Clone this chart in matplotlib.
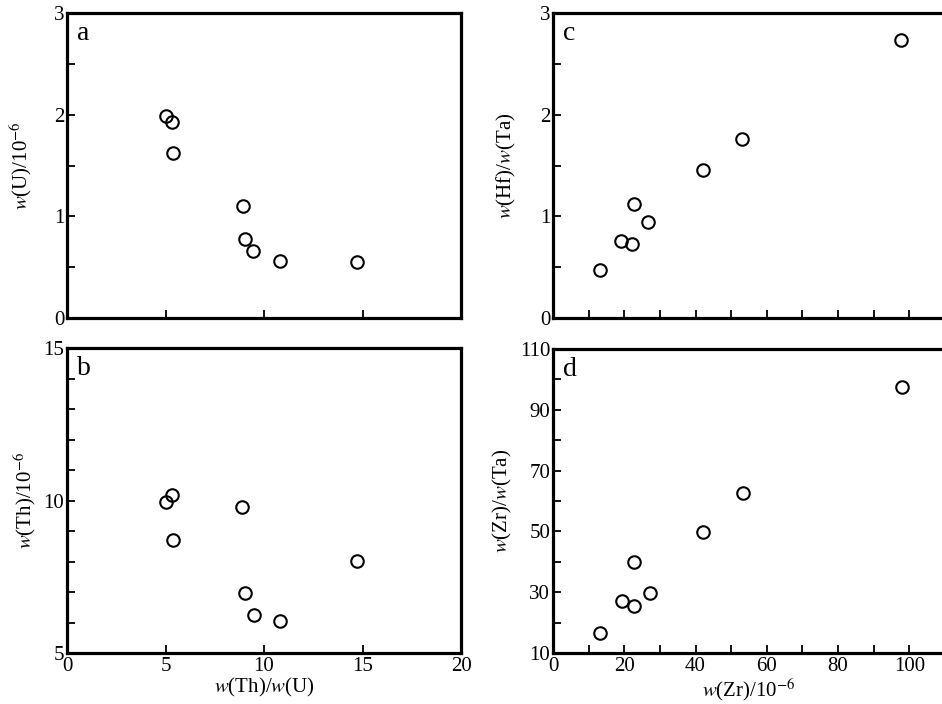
import matplotlib
matplotlib.use('Agg')
from matplotlib import pyplot as plt
from matplotlib.ticker import MultipleLocator

plt.rcParams['font.family'] = ['Liberation Serif', 'DejaVu Serif']
plt.rcParams['mathtext.fontset'] = 'stix'

# a/b: w(Th)/w(U) against w(U) and w(Th)
thu_a = [5.03, 5.35, 5.40, 8.92, 9.05, 9.42, 10.81, 14.74]
u_ppm = [1.99, 1.93, 1.62, 1.10, 0.78, 0.66, 0.56, 0.55]
thu_b = [5.03, 5.33, 5.40, 8.90, 9.04, 9.48, 10.83, 14.70]
th_ppm = [9.96, 10.19, 8.69, 9.80, 6.97, 6.26, 6.04, 8.02]

# c/d: w(Zr) against Hf/Ta and Zr/Ta
zr_c = [13.3, 19.0, 22.2, 22.7, 26.7, 42.0, 53.1, 97.6]
hf_ta = [0.47, 0.76, 0.73, 1.12, 0.94, 1.46, 1.76, 2.73]
zr_d = [13.3, 19.5, 22.6, 22.7, 27.2, 42.0, 53.4, 98.0]
zr_ta = [16.6, 27.1, 25.3, 39.9, 29.7, 49.9, 62.5, 97.4]

W, H = 942, 704
fig = plt.figure(figsize=(W / 100, H / 100), dpi=100)

def make_ax(x0, y0, x1, y1):
    return fig.add_axes([x0 / W, 1 - y1 / H, (x1 - x0) / W, (y1 - y0) / H])

ax_a = make_ax(67, 13, 461, 318)
ax_b = make_ax(67, 348, 461, 653)
# right column runs off the page edge, as in the original figure
ax_c = make_ax(553, 13, 945, 318)
ax_d = make_ax(553, 349, 945, 653)

def style(ax, letter):
    for s in ax.spines.values():
        s.set_linewidth(2.3)
    ax.tick_params(which='both', direction='in', labelsize=15, width=1.3, pad=2)
    ax.tick_params(which='both', length=6)
    ax.tick_params(axis='x', pad=3)
    ax.text(0.025, 0.975, letter, transform=ax.transAxes, fontsize=20,
            va='top', ha='left')

def scatter(ax, x, y):
    ax.plot(x, y, 'o', ms=9, mfc='none', mec='black', mew=1.5, clip_on=False)

lw = r'$\mathit{w}$'
fs = 15

# a
scatter(ax_a, thu_a, u_ppm)
ax_a.set_xlim(0, 20)
ax_a.set_ylim(0, 3)
ax_a.set_xticks([5, 10, 15])
ax_a.set_xticklabels([])
ax_a.yaxis.set_major_locator(MultipleLocator(1))
ax_a.yaxis.set_minor_locator(MultipleLocator(0.5))
ax_a.set_ylabel(lw + r'(U)/10$^{-6}$', fontsize=fs, labelpad=14)
style(ax_a, 'a')

# b
scatter(ax_b, thu_b, th_ppm)
ax_b.set_xlim(0, 20)
ax_b.set_ylim(5, 15)
ax_b.set_xticks([0, 5, 10, 15, 20])
ax_b.yaxis.set_major_locator(MultipleLocator(5))
ax_b.yaxis.set_minor_locator(MultipleLocator(1))
ax_b.set_ylabel(lw + r'(Th)/10$^{-6}$', fontsize=fs, labelpad=4)
ax_b.set_xlabel(lw + '(Th)/' + lw + '(U)', fontsize=fs, labelpad=0)
style(ax_b, 'b')

# c
scatter(ax_c, zr_c, hf_ta)
ax_c.set_xlim(0, 110)
ax_c.set_ylim(0, 3)
ax_c.xaxis.set_major_locator(MultipleLocator(10))
ax_c.set_xticklabels([])
ax_c.yaxis.set_major_locator(MultipleLocator(1))
ax_c.yaxis.set_minor_locator(MultipleLocator(0.5))
ax_c.set_ylabel(lw + '(Hf)/' + lw + '(Ta)', fontsize=fs, labelpad=16)
style(ax_c, 'c')

# d
scatter(ax_d, zr_d, zr_ta)
ax_d.set_xlim(0, 110)
ax_d.set_ylim(10, 110)
ax_d.set_xticks([0, 20, 40, 60, 80, 100])
ax_d.xaxis.set_minor_locator(MultipleLocator(10))
ax_d.set_yticks([10, 30, 50, 70, 90, 110])
ax_d.yaxis.set_minor_locator(MultipleLocator(10))
ax_d.set_ylabel(lw + '(Zr)/' + lw + '(Ta)', fontsize=fs, labelpad=4)
ax_d.set_xlabel(lw + r'(Zr)/10$^{-6}$', fontsize=fs, labelpad=0)
style(ax_d, 'd')

fig.savefig('out.png', dpi=100)
